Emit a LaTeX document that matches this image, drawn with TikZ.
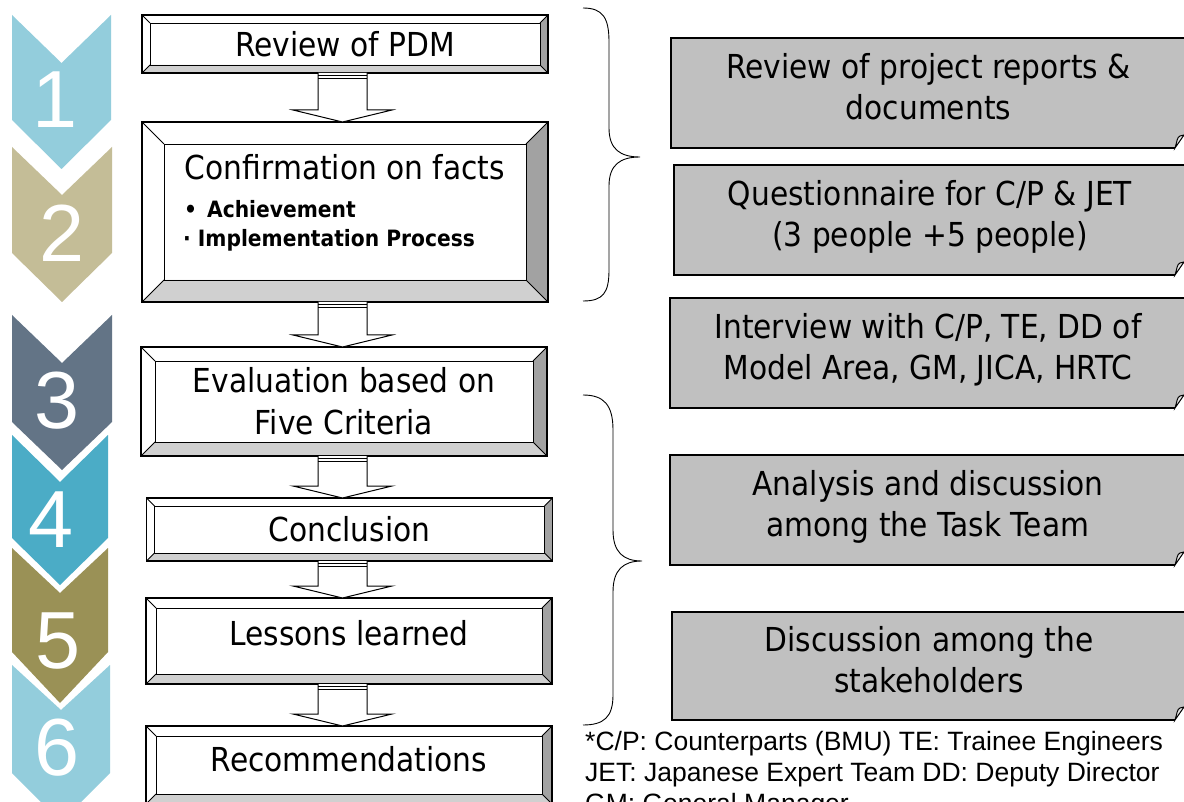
\documentclass[tikz,border=0pt]{standalone}
\usepackage{fontspec}
\setmainfont{DejaVu Sans}[FakeStretch=0.9]
\newfontfamily\notefont{Liberation Sans}
\usepackage{xcolor}
\definecolor{EVLSky}{HTML}{93CDDC}
\definecolor{EVLKhaki}{HTML}{C4BD97}
\definecolor{EVLSlate}{HTML}{637486}
\definecolor{EVLTeal}{HTML}{4BACC6}
\definecolor{EVLOlive}{HTML}{9A9156}
\definecolor{EVLBevelLow}{HTML}{D0D0D0}
\definecolor{EVLBevelSide}{HTML}{A2A2A2}
\definecolor{EVLCard}{HTML}{C0C0C0}
\usepackage{tikz}
\usetikzlibrary{calc}

\tikzset{
  stepbox/.style={minimum width=406pt, inner sep=0pt, outer sep=0pt, align=center,
    font=\fontsize{33}{42}\selectfont},
  steptext/.style={inner sep=0pt, font=\fontsize{33}{42}\selectfont},
  bullettext/.style={inner sep=0pt, anchor=base west, font=\bfseries\fontsize{22.5}{27}\selectfont},
  card/.style={draw, line width=1.1pt, fill=EVLCard, inner sep=0pt, outer sep=0pt,
    minimum height=110pt, text depth=13pt, align=center, font=\fontsize{33}{41}\selectfont},
  digit/.style={text=white, inner sep=0pt, font=\notefont\fontsize{81}{81}\selectfont},
  bracket/.style={line width=0.9pt},
  note/.style={inner sep=0pt, anchor=north west, align=left, font=\notefont\fontsize{26.5}{31}\selectfont},
}

% bevelled frame round a step node
\newcommand\bevel[2]{%
  \fill[EVLBevelLow] (#1.south west) -- (#1.south east) -- ([shift={(-#2,-#2)}]#1.south east) -- ([shift={(#2,-#2)}]#1.south west) -- cycle;
  \fill[EVLBevelSide] (#1.north east) -- (#1.south east) -- ([shift={(-#2,-#2)}]#1.south east) -- ([shift={(-#2,#2)}]#1.north east) -- cycle;
  \draw[line width=1.1pt] (#1.north west) rectangle (#1.south east);
  \draw[line width=0.9pt] ([shift={(#2,#2)}]#1.north west) rectangle ([shift={(-#2,-#2)}]#1.south east);
  \draw[line width=0.8pt] (#1.north west) -- ([shift={(#2,#2)}]#1.north west)
    (#1.north east) -- ([shift={(-#2,#2)}]#1.north east)
    (#1.south east) -- ([shift={(-#2,-#2)}]#1.south east)
    (#1.south west) -- ([shift={(#2,-#2)}]#1.south west);
}
% hollow block arrow between two steps
\newcommand\flowarrow[2]{%
  \draw[line width=1pt, fill=white] let \p1=(spine |- #1.south), \p2=(spine |- #2.north) in
    (\x1-24.5pt,\y1) -- (\x1-24.5pt,\y2+12pt) -- (\x1-49.5pt,\y2+12pt) -- (\x2,\y2)
    -- (\x1+49.5pt,\y2+12pt) -- (\x1+24.5pt,\y2+12pt) -- (\x1+24.5pt,\y1);
  \draw[line width=1.6pt] let \p1=(spine |- #1.south) in (\x1-24.5pt,\y1-2.5pt) -- (\x1+24.5pt,\y1-2.5pt);
  \draw[line width=0.8pt] let \p1=(spine |- #1.south) in (\x1-24.5pt,\y1-5.5pt) -- (\x1+24.5pt,\y1-5.5pt);
}
% curled corner of a card
\newcommand\fold[1]{%
  \fill[white] ([shift={(-12,2)}]#1.south east) -- ([shift={(4,2)}]#1.south east) -- ([shift={(4,-13.5)}]#1.south east) -- ([shift={(-2,-13.5)}]#1.south east) -- cycle;
  \filldraw[fill=EVLCard!45, line width=1pt] ([shift={(-11,0)}]#1.south east)
    .. controls ([shift={(-9,-6)}]#1.south east) and ([shift={(-9,-11)}]#1.south east) .. ([shift={(-6,-12)}]#1.south east)
    -- ([shift={(-2,-13)}]#1.south east) -- cycle;
}

\begin{document}
\begin{tikzpicture}[x=1pt,y=-1pt]
  \useasboundingbox (0,0) rectangle (1184,802);
  \clip (0,0) rectangle (1184,802);
  \fill[white] (0,0) rectangle (1184,802);

  % chevron strip
  \foreach \yt/\yn/\ys/\yp/\xr/\col in {15/63/120/169/111/EVLSky,147/195/253/302/112/EVLKhaki,
      315/363/422/470/112/EVLSlate,435/482/538/585/108/EVLTeal,548/593/652/703/108/EVLOlive,
      665/710/773/822/110/EVLSky}{
    \fill[\col] (12,\yt) -- ({(12+\xr)/2},\yn) -- (\xr,\yt) -- (\xr,\ys) -- ({(12+\xr)/2},\yp) -- (12,\ys) -- cycle;
  }
  \foreach \i/\x/\y in {1/55/100,2/62/233,3/57/401,4/51/520,5/58/641,6/57/748}{
    \node[digit] (n\i) at (\x,\y) {\i};
  }

  % steps
  \coordinate (spine) at (342.5,0);
  \node[stepbox, minimum height=58pt] (b1) at (345,44) {Review of PDM};
  \node[stepbox, minimum height=180pt] (b2) at (345,212) {};
  \node[stepbox, minimum height=109pt] (b3) at (344,401.5) {Evaluation based on\\Five Criteria};
  \node[stepbox, minimum height=63pt, text depth=1pt] (b4) at (349.5,529.5) {Conclusion};
  \node[stepbox, minimum height=86pt, text depth=17pt] (b5) at (349,641) {Lessons learned};
  \node[stepbox, minimum height=78pt, text depth=12pt] (b6) at (349,765) {Recommendations};
  \foreach \b/\d in {b1/8,b2/22,b3/14,b4/8,b5/10,b6/10}{\bevel{\b}{\d}}
  \node[steptext] (t2) at (345,167.5) {Confirmation on facts};
  \node[bullettext] (t2a) at (184,218) {\textbullet\hspace{10pt}Achievement};
  \node[bullettext] (t2b) at (183,247) {·\hspace{7pt}Implementation Process};
  \foreach \a/\b in {b1/b2,b2/b3,b3/b4,b4/b5,b5/b6}{\flowarrow{\a}{\b}}

  % methods
  \node[card, minimum width=515pt] (r1) at (928.5,93) {Review of project reports \&\\documents};
  \node[card, minimum width=512pt] (r2) at (930,220) {Questionnaire for C/P \& JET\\(3 people +5 people)};
  \node[card, minimum width=516pt] (r3) at (928,353) {Interview with C/P, TE, DD of\\Model Area, GM, JICA, HRTC};
  \node[card, minimum width=516pt] (r4) at (928,510) {Analysis and discussion\\among the Task Team};
  \node[card, minimum width=514pt, minimum height=108pt] (r5) at (929,666) {Discussion among the\\stakeholders};
  \foreach \r in {r1,r2,r3,r4,r5}{\fold{\r}}

  \draw[bracket] (583,8) .. controls (603,8) and (609,18) .. (609,42) -- (609,128)
    .. controls (609,149) and (620,157) .. (640,157) .. controls (620,157) and (609,165) .. (609,186)
    -- (609,270) .. controls (609,293) and (603,301) .. (583,301);
  \draw[bracket] (583,395) .. controls (604,395) and (613,405) .. (613,430) -- (613,530)
    .. controls (613,552) and (623,561) .. (642,561) .. controls (623,561) and (613,570) .. (613,592)
    -- (613,695) .. controls (613,717) and (604,725) .. (583,725);

  \node[note] (fn) at (585,731) {*C/P: Counterparts (BMU) TE: Trainee Engineers\\JET: Japanese Expert Team DD: Deputy Director\\GM: General Manager};
\end{tikzpicture}
\end{document}
